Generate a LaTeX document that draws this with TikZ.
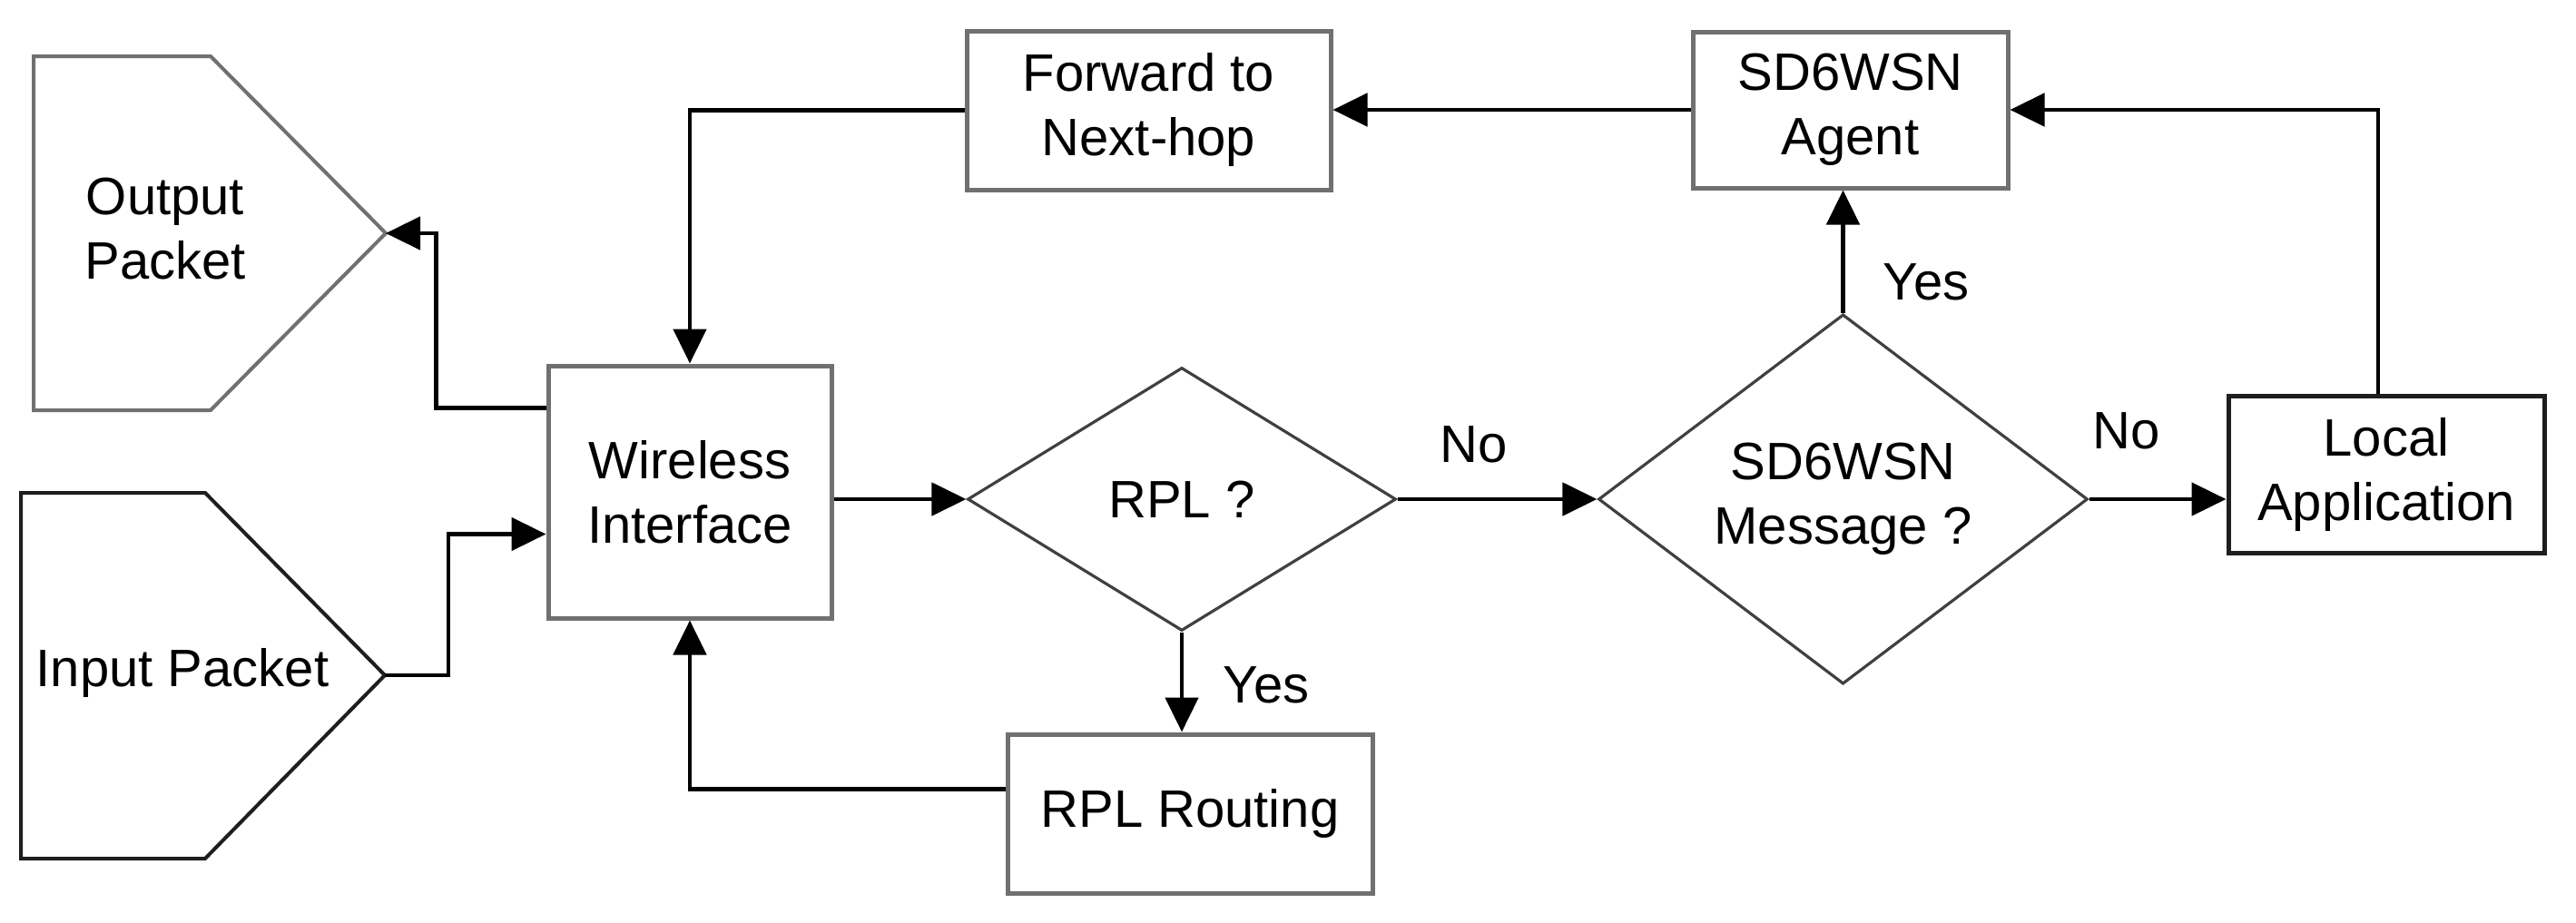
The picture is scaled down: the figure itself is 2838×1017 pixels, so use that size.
\documentclass[tikz,border=0pt]{standalone}
\usepackage{fontspec}
\setmainfont{Liberation Sans}
\usetikzlibrary{arrows.meta,shapes.geometric,calc}
\definecolor{boxgray}{HTML}{707070}
\definecolor{dgray}{HTML}{404040}
\definecolor{nearblack}{HTML}{1E1E1E}
\tikzset{
  txt/.style={font=\fontsize{29}{35.5}\selectfont, align=center, inner sep=0pt},
  box/.style={txt, draw=boxgray, line width=2.5pt, fill=white},
  decision/.style={txt, shape=diamond, draw=dgray, line width=1.6pt, fill=white},
  arr/.style={draw=black, line width=2.4pt, -{Triangle[length=19pt,width=18pt]}},
  lbl/.style={font=\fontsize{29}{35.5}\selectfont, inner sep=0pt}
}
\begin{document}
\begin{tikzpicture}[x=0.5pt,y=-0.5pt]
\useasboundingbox (0,0) rectangle (2838,1017);

% pentagon shapes
\coordinate (otip) at (425,257);
\coordinate (itip) at (424,744);
\draw[draw=boxgray, line width=2pt, line join=miter] (37,62) -- (232,62) -- (otip) -- (232,452) -- (37,452) -- cycle;
\draw[draw=nearblack, line width=2pt, line join=miter] (23,543) -- (226,543) -- (itip) -- (226,946) -- (23,946) -- cycle;
\node[txt] (outp) at (182,252) {Output\\Packet};
\node[txt] (inp) at (201,741) {Input Packet};

% boxes
\node[box, minimum width=156pt, minimum height=139pt] (wi) at (760,542) {Wireless\\Interface};
\node[box, minimum width=200.5pt, minimum height=87.5pt] (fwd) at (1265.5,121.5) {Forward to\\Next-hop};
\node[box, minimum width=173.5pt, minimum height=86pt] (agent) at (2038.5,121) {SD6WSN\\Agent};
\node[box, draw=nearblack, minimum width=174pt, minimum height=86.5pt] (local) at (2629,522.5) {Local\\Application};
\node[box, minimum width=201pt, minimum height=87.5pt] (rr) at (1311,896.5) {RPL Routing};

% decisions
\node[decision, minimum width=236pt, minimum height=145pt] (rpl) at (1302,550) {RPL ?};
\node[decision, minimum width=269.5pt, minimum height=165.5pt] (sd) at (2030.5,550) {SD6WSN\\Message ?};

% connectors
\coordinate (wiout) at ($(wi.north west)+(0,49)$);
\coordinate (wiin) at ($(wi.north west)+(0,188)$);
\draw[arr] (wiout) -- ++(-121,0) |- (otip);
\draw[arr] (itip) -- ++(70,0) |- (wiin);
\draw[arr] (fwd.west) -| (wi.north);
\coordinate (rrout) at ($(rr.west)+(0,-27)$);
\draw[arr] (rrout) -| (wi.south);
\draw[arr] (wi.east |- rpl.west) -- (rpl.west);
\draw[arr] (rpl.east) -- (sd.west);
\draw[arr] (rpl.south) -- (rpl.south |- rr.north);
\draw[arr] (sd.north) -- (sd.north |- agent.south);
\draw[arr] (sd.east) -- (sd.east -| local.west);
\coordinate (localup) at ($(local.north)+(-9,0)$);
\draw[arr] (localup) |- (agent.east);
\draw[arr] (agent.west) -- (agent.west -| fwd.east);

% labels
\node[lbl] (no1) at (1624,490) {No};
\node[lbl] (yes1) at (1395,755) {Yes};
\node[lbl] (yes2) at (2122,311) {Yes};
\node[lbl] (no2) at (2343,475) {No};
\end{tikzpicture}
\end{document}
